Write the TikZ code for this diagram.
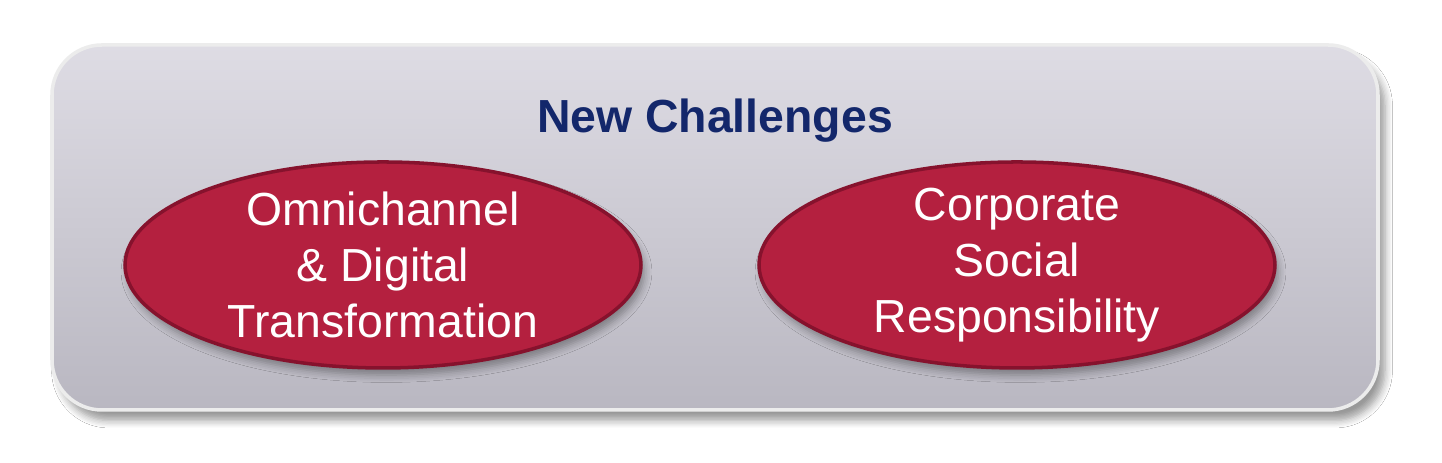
\documentclass[tikz,border=0pt]{standalone}
\usepackage{fontspec}
\setmainfont{Liberation Sans}
\usetikzlibrary{shapes.geometric,shadows.blur}
\definecolor{boxtop}{HTML}{DEDCE4}
\definecolor{boxbot}{HTML}{B9B7C1}
\definecolor{crimson}{HTML}{B4203F}
\definecolor{crimsondark}{HTML}{86122D}
\definecolor{navy}{HTML}{13276B}
\tikzset{
  panel/.style={rounded corners=50pt*0.2845, top color=boxtop, bottom color=boxbot,
    draw=white!85!gray, line width=1pt,
    blur shadow={shadow xshift=2pt, shadow yshift=-3pt, shadow blur steps=6, shadow opacity=40}},
  oval/.style={ellipse, fill=crimson, draw=crimsondark, line width=1pt,
    minimum width=5.16cm, minimum height=2.06cm, inner sep=0pt,
    blur shadow={shadow xshift=1pt, shadow yshift=-2pt, shadow blur steps=5, shadow opacity=35}},
  ovaltext/.style={text=white, align=center, font=\fontsize{13.2}{16}\selectfont},
  title/.style={text=navy, font=\bfseries\fontsize{13.2}{15}\selectfont}
}
\begin{document}
\begin{tikzpicture}
\useasboundingbox[fill=white] (0,0) rectangle (14.42,4.63);
\path[panel] (0.52,0.53) rectangle (13.78,4.18);
\node[title] (t) at (7.15,3.42) {New Challenges};
\node[oval] (a) at (3.83,1.98) {};
\node[ovaltext] (at) at (a.center) {Omnichannel\\ \& Digital\\ Transformation};
\node[oval] (b) at (10.17,1.98) {};
\node[ovaltext] (bt) at (b.center) {Corporate\\ Social\\ Responsibility};
\end{tikzpicture}
\end{document}
